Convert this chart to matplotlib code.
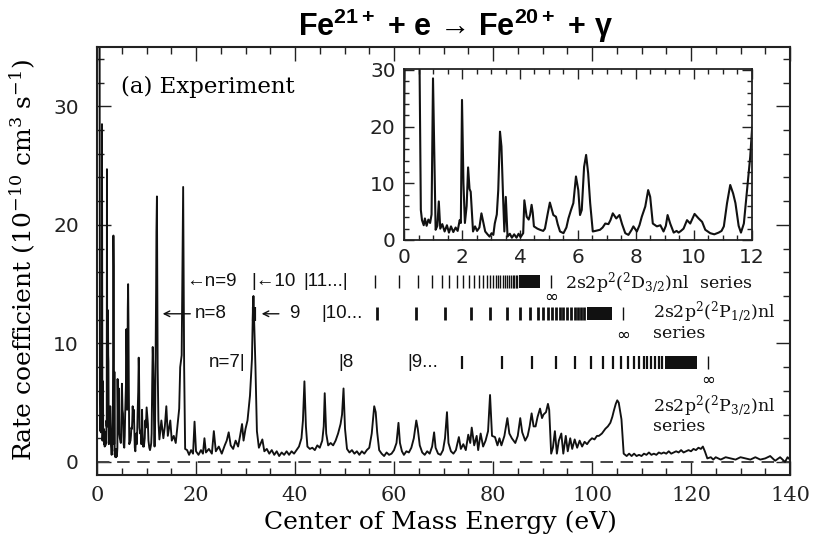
import matplotlib
matplotlib.use("Agg")
import matplotlib.pyplot as plt
from matplotlib.ticker import MultipleLocator

plt.rcParams['font.family'] = ['DejaVu Serif', 'DejaVu Sans']
plt.rcParams['mathtext.fontset'] = 'dejavuserif'
plt.rcParams['mathtext.default'] = 'regular'
plt.rcParams['lines.scale_dashes'] = False

# spectrum (eV, 1e-10 cm^3 s^-1)
energy = [0.00, 0.03, 0.52, 0.58, 0.62, 0.68, 0.72, 0.78, 0.84, 0.90, 0.95, 1.00, 1.05, 1.09, 1.15,
          1.20, 1.25, 1.32, 1.40, 1.48, 1.55, 1.62, 1.70, 1.78, 1.85, 1.92, 1.96, 2.00, 2.05, 2.10,
          2.16, 2.21, 2.26, 2.30, 2.34, 2.38, 2.45, 2.52, 2.60, 2.67, 2.73, 2.80, 2.88, 2.95, 3.02,
          3.08, 3.13, 3.20, 3.25, 3.31, 3.36, 3.42, 3.46, 3.51, 3.57, 3.65, 3.72, 3.80, 3.88, 3.95,
          4.02, 4.11, 4.15, 4.19, 4.23, 4.30, 4.35, 4.40, 4.44, 4.48, 4.60, 4.69, 4.80, 4.86, 4.95,
          5.03, 5.09, 5.15, 5.24, 5.30, 5.38, 5.50, 5.60, 5.67, 5.76, 5.84, 5.93, 6.01, 6.07, 6.13,
          6.21, 6.28, 6.35, 6.42, 6.51, 6.60, 6.76, 6.85, 6.94, 7.05, 7.12, 7.20, 7.32, 7.43, 7.52,
          7.63, 7.74, 7.85, 7.91, 8.03, 8.12, 8.20, 8.32, 8.42, 8.49, 8.58, 8.72, 8.84, 8.95, 9.03,
          9.09, 9.18, 9.30, 9.40, 9.47, 9.55, 9.64, 9.76, 9.87, 10.02, 10.16, 10.28, 10.39, 10.56, 10.70,
          10.85, 10.95, 11.03, 11.14, 11.25, 11.35, 11.43, 11.54, 11.62, 11.72, 11.83, 11.94, 12.00, 12.10, 12.25,
          12.40, 12.60, 13.0, 13.4, 13.7, 14.0, 14.3, 14.8, 15.1, 15.5, 15.9, 16.3, 16.6, 16.8, 17.1,
          17.4, 17.6, 17.8, 18.2, 18.6, 19.0, 19.4, 19.7, 20.0, 20.5, 21.0, 21.4, 21.7, 22.0, 22.6,
          23.2, 23.6, 24.0, 24.6, 25.2, 25.8, 26.2, 26.6, 27.0, 27.5, 28.0, 28.5, 28.9, 29.3, 29.6,
          30.0, 30.4, 30.9, 31.3, 31.45, 31.6, 31.8, 32.0, 32.3, 32.7, 33.0, 33.4, 33.8, 34.3, 34.8,
          35.3, 35.8, 36.3, 36.8, 37.3, 37.8, 38.3, 38.8, 39.3, 39.8, 40.3, 40.8, 41.3, 41.6, 41.9,
          42.2, 42.5, 43.0, 43.5, 44.0, 44.5, 45.0, 45.5, 45.8, 46.0, 46.3, 46.7, 47.2, 47.7, 48.2,
          48.7, 49.2, 49.5, 49.8, 50.1, 50.5, 51.0, 51.5, 52.0, 52.5, 53.0, 53.5, 54.0, 54.5, 55.0,
          55.5, 56.0, 56.3, 56.6, 57.0, 57.5, 58.0, 58.5, 59.0, 59.5, 60.0, 60.5, 60.9, 61.2, 61.6,
          62.0, 62.5, 63.0, 63.5, 64.0, 64.5, 64.8, 65.2, 65.7, 66.2, 66.7, 67.2, 67.7, 68.1, 68.4,
          68.9, 69.4, 69.9, 70.3, 70.7, 71.0, 71.5, 72.0, 72.5, 73.1, 73.5, 74.0, 74.5, 75.0, 75.4,
          75.7, 76.2, 76.7, 77.0, 77.5, 78.0, 78.5, 79.0, 79.4, 79.8, 80.4, 80.9, 81.3, 81.7, 82.3,
          82.9, 83.3, 83.8, 84.5, 85.0, 85.5, 85.9, 86.5, 87.0, 87.4, 87.8, 88.2, 88.6, 89.0, 89.5,
          89.9, 90.2, 90.7, 91.1, 91.35, 91.75, 92.1, 92.5, 92.9, 93.3, 93.8, 94.2, 94.7, 95.1, 95.6,
          96.0, 96.5, 97.0, 97.5, 98.0, 98.5, 99.0, 99.5, 100.0, 100.5, 101.0, 101.4, 102.0, 102.7, 103.2,
          103.7, 104.1, 104.4, 104.8, 105.1, 105.4, 105.95, 106.4, 107.0, 107.5, 108.0, 108.5, 109.0, 109.5, 110.0,
          110.5, 111.0, 111.5, 112.0, 112.5, 113.0, 113.5, 114.0, 114.5, 115.0, 115.5, 116.0, 116.5, 117.0, 117.5,
          118.0, 118.5, 119.0, 119.5, 120.0, 120.5, 121.0, 121.5, 122.0, 122.4, 122.8, 123.3, 124.0, 124.5, 125.0,
          125.5, 126.0, 127.0, 128.0, 129.0, 130.0, 131.0, 132.0, 133.0, 134.0, 135.0, 136.0, 137.0, 138.0, 139.0,
          139.5, 140.0]
rate = [14.0, 40, 40, 5.3, 3.5, 2.6, 3.8, 2.5, 3.6, 3.0, 4.5, 28.5, 14, 1.8, 2.5,
        6.8, 2.0, 2.8, 1.5, 2.6, 1.3, 2.4, 1.4, 2.2, 1.6, 3.5, 3.0, 24.7, 10, 3.0,
        6, 12.8, 9, 8.5, 5, 1.5, 2.4, 1.6, 2.2, 4.7, 3.2, 1.5, 1.0, 0.6, 1.2,
        0.9, 2.9, 4.5, 8.8, 19.1, 16.5, 7.0, 1.5, 7.6, 0.6, 1.1, 0.4, 1.0, 0.4, 1.1,
        0.5, 1.2, 7.0, 5.5, 4.1, 3.6, 4.5, 6.2, 4.8, 2.4, 2.0, 1.8, 1.6, 2.0, 4.5,
        6.6, 5.5, 4.4, 4.1, 2.8, 1.5, 1.2, 2.2, 3.8, 5.3, 6.5, 11.2, 8.8, 4.4, 5.3,
        12.9, 15.0, 11.8, 6.5, 1.5, 1.6, 1.8, 2.2, 2.9, 2.8, 3.5, 4.7, 3.8, 4.4, 2.8,
        1.2, 0.9, 1.8, 2.4, 1.5, 2.6, 4.1, 5.9, 8.8, 7.6, 2.9, 2.4, 2.6, 1.5, 2.5,
        4.4, 2.9, 1.3, 1.6, 1.3, 1.6, 2.0, 3.5, 2.9, 4.6, 3.8, 3.2, 1.8, 1.2, 1.0,
        1.3, 1.6, 2.4, 6.5, 9.7, 8.2, 6.5, 2.5, 1.3, 2.9, 8.8, 14.7, 19.4, 22.4, 8,
        3.5, 1.9, 3.5, 2.0, 3.0, 4.7, 2.2, 3.5, 1.8, 2.2, 1.6, 3.3, 4.5, 8.0, 9,
        23.2, 8, 1.1, 1.0, 0.6, 1.0, 0.7, 3.4, 0.9, 0.6, 1.0, 0.7, 2.0, 0.8, 1.1,
        0.7, 2.6, 0.9, 1.3, 0.7, 1.4, 1.8, 2.5, 1.4, 1.1, 1.8, 1.3, 2.2, 3.2, 1.8,
        2.8, 3.5, 5.6, 8.7, 12, 14.0, 11, 8.1, 2.6, 1.2, 1.5, 1.9, 0.9, 1.1, 0.7,
        1.0, 0.6, 0.9, 0.5, 0.8, 0.6, 0.9, 0.6, 0.9, 0.7, 1.0, 1.3, 2.0, 3.5, 6.8,
        3.0, 1.3, 1.1, 1.2, 1.0, 1.4, 1.2, 1.8, 3.0, 5.8, 2.4, 1.4, 1.6, 1.4, 1.8,
        2.4, 3.2, 4.0, 6.2, 2.8, 1.1, 0.8, 1.0, 0.7, 0.9, 0.6, 0.9, 0.7, 1.0, 1.2,
        2.4, 4.7, 4.2, 2.5, 1.0, 0.7, 0.5, 0.8, 0.6, 0.7, 1.0, 1.6, 3.3, 1.6, 0.9,
        0.6, 0.9, 0.8, 1.2, 2.0, 3.5, 2.8, 1.4, 0.8, 0.6, 0.9, 0.7, 1.3, 2.5, 1.2,
        0.7, 0.6, 1.0, 2.0, 4.2, 1.6, 0.9, 0.7, 1.0, 2.1, 1.1, 1.5, 1.0, 2.3, 1.6,
        2.9, 1.4, 2.2, 1.0, 2.4, 1.3, 1.8, 2.6, 5.65, 2.2, 2.1, 1.4, 2.0, 1.4, 2.2,
        3.7, 2.4, 2.0, 1.6, 2.2, 3.7, 2.5, 1.8, 2.2, 3.0, 4.1, 3.0, 3.0, 3.8, 4.5,
        3.7, 4.0, 4.2, 4.9, 4.4, 0.7, 1.2, 2.6, 0.7, 1.8, 2.4, 0.7, 2.2, 0.9, 2.0,
        1.1, 1.9, 1.2, 1.8, 1.3, 1.7, 1.5, 1.8, 2.0, 1.9, 2.2, 2.2, 2.4, 2.8, 3.0,
        3.3, 3.8, 4.3, 4.9, 5.2, 5.0, 3.6, 0.7, 0.5, 0.7, 0.5, 0.7, 0.5, 0.6, 0.5,
        0.7, 0.6, 0.8, 0.6, 0.7, 0.6, 0.8, 0.7, 0.8, 0.7, 0.9, 0.7, 0.8, 0.9, 0.8,
        1.0, 0.8, 0.9, 1.0, 0.9, 1.1, 1.0, 1.2, 1.1, 1.3, 0.9, 0.3, 0.4, 0.2, 0.4,
        0.3, 0.2, 0.4, 0.3, 0.2, 0.4, 0.3, 0.2, 0.4, 0.2, 0.3, 0.5, 0.1, 0.4, 0.0,
        0.4, 0.2]

# Rydberg series markers (eV): individual lines, dense block, series limit
d32_lines = [56.1, 61.1, 64.9, 67.7, 69.6, 71.2, 72.7, 74.0, 75.1, 76.2, 77.2, 78.0, 78.7, 79.4,
             79.9, 80.6, 81.1, 81.5, 82.0, 82.4, 82.8, 83.2, 83.6, 84.0, 84.3, 84.6, 84.9]
d32_block = (85.2, 89.4)
d32_limit = 91.8
p12_lines = [56.5, 64.5, 70.4, 75.5, 79.4, 82.8, 85.4, 87.4, 89.0, 90.2, 91.2, 92.0, 92.8, 93.6,
             94.2, 95.0, 95.8, 96.5, 97.1, 97.7, 98.4]
p12_block = (99.0, 104.0)
p12_limit = 106.2
p32_lines = [73.8, 81.8, 87.8, 92.8, 96.6, 99.7, 102.2, 104.2, 105.8, 107.2, 108.5, 109.5, 110.5,
             111.2, 112.0, 112.8, 113.5, 114.1]
p32_block = (114.7, 121.3)
p32_limit = 123.5

ink = '#111111'
fig = plt.figure(figsize=(8.23, 5.41), dpi=100)
ax = fig.add_axes([0.1179, 0.122, 0.842, 0.791])

ax.axhline(0, color='#444444', lw=1.4, dashes=(9, 5.5))
ax.plot(energy, rate, color=ink, lw=1.35)

ax.set_xlim(0, 140)
ax.set_ylim(-1.1, 35)
ax.xaxis.set_major_locator(MultipleLocator(20))
ax.xaxis.set_minor_locator(MultipleLocator(5))
ax.yaxis.set_major_locator(MultipleLocator(10))
ax.yaxis.set_minor_locator(MultipleLocator(2))
ax.tick_params(which='both', direction='in', top=True, right=True, colors='#222222')
ax.tick_params(which='major', length=10, width=1.0)
ax.tick_params(which='minor', length=5, width=1.0)
ax.tick_params(axis='x', labelsize=15, pad=8)
ax.tick_params(axis='y', labelsize=14.5, pad=13)
for lab in ax.get_yticklabels():
    lab.set_family('DejaVu Sans')
for s in ax.spines.values():
    s.set_linewidth(1.5)
    s.set_color('#222222')

fig.text(0.535, 0.035, 'Center of Mass Energy (eV)', ha='center', va='center', fontsize=18)
fig.text(0.028, 0.52, r'Rate coefficient (10$^{-10}$ cm$^{3}$ s$^{-1}$)', ha='center', va='center',
         rotation=90, fontsize=18)
ax.text(4.8, 31.6, '(a) Experiment', fontsize=16.5, va='center', ha='left')
fig.text(0.553, 0.953, 'Fe$^{21+}$ + e \u2192 Fe$^{20+}$ + \u03b3', ha='center', va='center',
         fontsize=22, fontweight='bold', family=['Liberation Sans', 'DejaVu Sans'])

# series marker rows
rows = [(d32_lines, d32_block, d32_limit, 15.2, 1.0, 13.9),
        (p12_lines, p12_block, p12_limit, 12.5, 2.0, 10.7),
        (p32_lines, p32_block, p32_limit, 8.35, 1.6, 6.9)]
for lines, block, limit, yc, lw, yinf in rows:
    ax.vlines(lines, yc - 0.55, yc + 0.55, color=ink, lw=lw)
    ax.fill_between(list(block), yc - 0.55, yc + 0.55, color=ink, lw=0)
    ax.vlines([limit], yc - 0.55, yc + 0.55, color=ink, lw=1.0)
    ax.text(limit, yinf, '\u221e', ha='center', va='center', fontsize=12, family='DejaVu Sans')

sans = dict(family=['Liberation Sans', 'DejaVu Sans'], fontsize=13.5, va='center', color=ink)
ax.text(17.9, 15.2, '\u2190n=9', ha='left', **sans)
ax.text(31.1, 15.2, '|\u219010', ha='left', **sans)
ax.text(41.6, 15.2, '|11...|', ha='left', **sans)
ax.annotate('', xy=(12.7, 12.5), xytext=(19.4, 12.5),
            arrowprops=dict(arrowstyle='->', color=ink, lw=1.0))
ax.text(19.8, 12.5, 'n=8', ha='left', **sans)
ax.vlines([31.75], 11.9, 13.1, color=ink, lw=3)
ax.annotate('', xy=(32.7, 12.5), xytext=(37.3, 12.5),
            arrowprops=dict(arrowstyle='->', color=ink, lw=1.0))
ax.text(38.9, 12.5, '9', ha='left', **sans)
ax.text(45.3, 12.5, '|10...', ha='left', **sans)
ax.text(30.0, 8.35, 'n=7|', ha='right', **sans)
ax.text(48.7, 8.35, '|8', ha='left', **sans)
ax.text(62.7, 8.35, '|9...', ha='left', **sans)

ser = dict(fontsize=12.5, va='center', ha='left', color=ink)
ax.text(94.5, 15.1, r'2s2p$^2$($^2$D$_{3/2}$)nl  series', **ser)
ax.text(112.3, 12.6, r'2s2p$^2$($^2$P$_{1/2}$)nl', **ser)
ax.text(112.3, 10.85, 'series', **ser)
ax.text(112.3, 4.75, r'2s2p$^2$($^2$P$_{3/2}$)nl', **ser)
ax.text(112.3, 3.0, 'series', **ser)

# inset: low-energy detail
axi = fig.add_axes([0.4909, 0.5564, 0.4228, 0.3155])
axi.plot(energy, rate, color=ink, lw=1.5)
axi.set_xlim(0, 12)
axi.set_ylim(0, 30.1)
axi.xaxis.set_major_locator(MultipleLocator(2))
axi.xaxis.set_minor_locator(MultipleLocator(0.5))
axi.yaxis.set_major_locator(MultipleLocator(10))
axi.yaxis.set_minor_locator(MultipleLocator(2))
axi.tick_params(which='both', direction='in', top=True, right=True, colors='#222222')
axi.tick_params(which='major', length=7, width=1.0, labelsize=14.5, pad=6)
axi.tick_params(which='minor', length=3.5, width=1.0)
for lab in axi.get_xticklabels() + axi.get_yticklabels():
    lab.set_family('DejaVu Sans')
for s in axi.spines.values():
    s.set_linewidth(1.3)
    s.set_color('#222222')

fig.savefig('out.png', dpi=100)
